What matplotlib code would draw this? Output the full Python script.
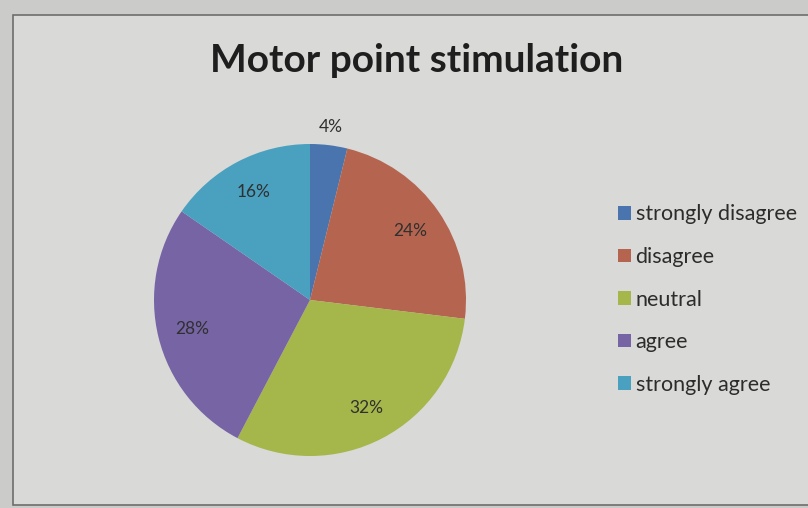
import matplotlib.pyplot as plt
from matplotlib.patches import Rectangle

# survey answers, clockwise from 12 o'clock
categories = ['strongly disagree', 'disagree', 'neutral', 'agree', 'strongly agree']
percentages = [4, 24, 32, 28, 16]
colors = ['#4a74ad', '#b5654f', '#a5b64a', '#7664a4', '#4aa0bf']

plt.rcParams['font.family'] = ['Lato', 'DejaVu Sans']

fig = plt.figure(figsize=(8.08, 5.08), dpi=100)
fig.patch.set_facecolor('#cbcbc9')

# chart area of the spreadsheet
fig.patches.append(Rectangle((13 / 808, 3 / 508), 1.0, 490 / 508, transform=fig.transFigure,
                             facecolor='#d9d9d7', edgecolor='#6e6e6c', linewidth=1.2, zorder=-5))

fig.text(417 / 808, 1 - 60 / 508, 'Motor point stimulation', ha='center', va='center',
         fontsize=28, fontweight='bold', color='#1e1e1e')

ax = fig.add_axes([154 / 808, 52 / 508, 312 / 808, 312 / 508])
ax.set_facecolor('none')
ax.set_zorder(2)
wedges, texts = ax.pie(percentages, colors=colors, startangle=90, counterclock=False,
                       labels=[f'{p}%' for p in percentages], labeldistance=0.78,
                       wedgeprops={'linewidth': 0},
                       textprops={'fontsize': 12.5, 'color': '#303030', 'ha': 'center', 'va': 'center'})
# the small slice gets its label outside
x, y = texts[0].get_position()
texts[0].set_position((x * 1.12 / 0.78, y * 1.12 / 0.78))
ax.set_xlim(-1, 1)
ax.set_ylim(-1, 1)
ax.set_aspect('equal')

leg = fig.legend(wedges, categories, loc='upper left', bbox_to_anchor=(599 / 808, 1 - 185 / 508),
                 frameon=False, fontsize=15.5, handlelength=0.6, handleheight=0.6,
                 handletextpad=0.2, labelspacing=1.05, labelcolor='#2c2c2c')
leg.set_zorder(3)

fig.savefig('out.png', dpi=100, facecolor=fig.get_facecolor())
